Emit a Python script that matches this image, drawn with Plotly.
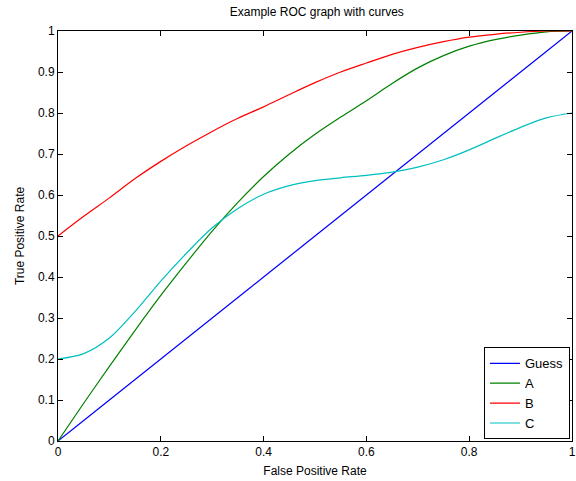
import plotly.graph_objects as go

# False positive rate grid shared by the curves
fpr = [0.0, 0.05, 0.1, 0.15, 0.2, 0.25, 0.3, 0.35, 0.4, 0.45, 0.5,
       0.55, 0.6, 0.65, 0.7, 0.75, 0.8, 0.85, 0.9, 0.95, 1.0]

# True positive rates for each classifier
tpr_guess = [0.0, 0.05, 0.1, 0.15, 0.2, 0.25, 0.3, 0.35, 0.4, 0.45, 0.5,
             0.55, 0.6, 0.65, 0.7, 0.75, 0.8, 0.85, 0.9, 0.95, 1.0]
tpr_a = [0.0, 0.092, 0.182, 0.27, 0.355, 0.435, 0.512, 0.582, 0.645, 0.70, 0.748,
         0.79, 0.83, 0.872, 0.91, 0.94, 0.963, 0.979, 0.99, 0.998, 1.0]
tpr_b = [0.5, 0.548, 0.593, 0.64, 0.682, 0.72, 0.755, 0.787, 0.815, 0.845, 0.874,
         0.90, 0.922, 0.943, 0.96, 0.974, 0.985, 0.992, 0.997, 1.0, 1.0]
tpr_c = [0.2, 0.213, 0.251, 0.316, 0.39, 0.458, 0.52, 0.567, 0.602, 0.623, 0.635,
         0.642, 0.648, 0.656, 0.668, 0.686, 0.71, 0.738, 0.765, 0.788, 0.80]

series = [
    ("Guess", tpr_guess, "#0000ff"),
    ("A", tpr_a, "#008000"),
    ("B", tpr_b, "#ff0000"),
    ("C", tpr_c, "#00bfbf"),
]

x_ticks = [0, 0.2, 0.4, 0.6, 0.8, 1]
x_tick_labels = ["0", "0.2", "0.4", "0.6", "0.8", "1"]
y_ticks = [0, 0.1, 0.2, 0.3, 0.4, 0.5, 0.6, 0.7, 0.8, 0.9, 1]
y_tick_labels = ["0", "0.1", "0.2", "0.3", "0.4", "0.5", "0.6", "0.7", "0.8", "0.9", "1"]

fig = go.Figure()
for name, tpr, color in series:
    fig.add_trace(go.Scatter(
        x=fpr, y=tpr, mode="lines", name=name,
        line=dict(color=color, width=1.2, shape="spline", smoothing=0.9),
    ))

font_family = "Liberation Sans, Arial, sans-serif"
axis_common = dict(
    showgrid=False, zeroline=False,
    showline=True, linecolor="black", linewidth=1, mirror="ticks",
    ticks="inside", ticklen=5, tickcolor="black", tickwidth=1,
    ticklabeloverflow="allow",
    tickfont=dict(family=font_family, size=12, color="black"),
)

fig.update_layout(
    width=576, height=481,
    margin=dict(l=58, r=0, t=31, b=40),
    paper_bgcolor="white", plot_bgcolor="white",
    title=dict(text="Example ROC graph with curves", x=0.55, xanchor="center",
               y=0.975, yanchor="middle",
               font=dict(family=font_family, size=12, color="black")),
    xaxis=dict(range=[0, 1], tickvals=x_ticks, ticktext=x_tick_labels,
               title=dict(text="False Positive Rate", standoff=8,
                          font=dict(family=font_family, size=12, color="black")),
               **axis_common),
    yaxis=dict(range=[0, 1], tickvals=y_ticks, ticktext=y_tick_labels,
               title=dict(text="True Positive Rate", standoff=10,
                          font=dict(family=font_family, size=12, color="black")),
               **axis_common),
    legend=dict(x=0.996, y=0.004, xanchor="right", yanchor="bottom",
                bgcolor="white", bordercolor="black", borderwidth=1,
                font=dict(family=font_family, size=13, color="black"),
                itemwidth=30, tracegroupgap=0),
    showlegend=True,
)

fig.write_html("out.html")
